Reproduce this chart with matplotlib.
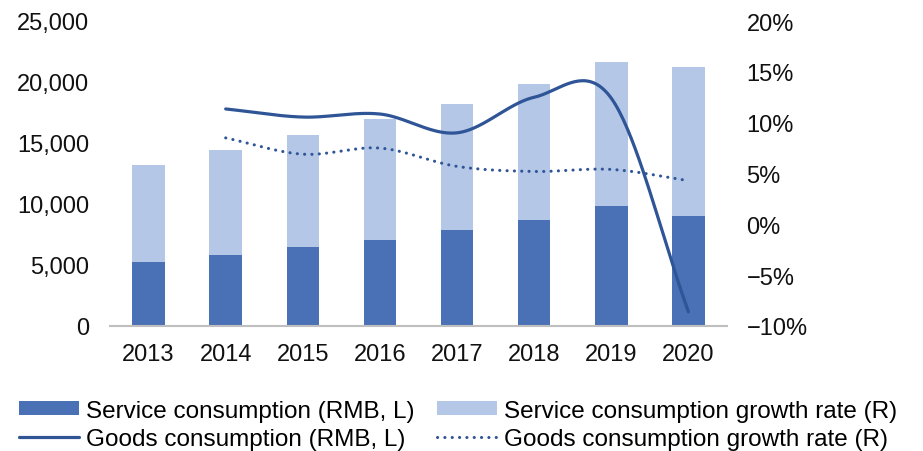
import numpy as np
import matplotlib
matplotlib.use("Agg")
import matplotlib.pyplot as plt
from matplotlib.ticker import FuncFormatter, FixedLocator

years = ["2013", "2014", "2015", "2016", "2017", "2018", "2019", "2020"]
service_consumption = [5250, 5800, 6450, 7050, 7850, 8650, 9850, 9000]
total_height = [13200, 14400, 15650, 17000, 18200, 19800, 21600, 21200]
goods_years = ["2014", "2015", "2016", "2017", "2018", "2019", "2020"]
goods_consumption_growth_line = [11.35, 10.55, 10.85, 9.0, 12.5, 12.4, -8.6]
goods_dotted = [8.5, 6.9, 7.5, 5.7, 5.2, 5.4, 4.3]
left_ticks = [0, 5000, 10000, 15000, 20000, 25000]
right_ticks = [-10, -5, 0, 5, 10, 15, 20]

main_font = ["Liberation Sans", "DejaVu Sans"]

DARK = "#4A70B5"
LIGHT = "#B4C7E7"
LINE = "#2F5597"


def catmull(xs, ys, n=40):
    xs = np.asarray(xs, float); ys = np.asarray(ys, float)
    px = np.concatenate([[2 * xs[0] - xs[1]], xs, [2 * xs[-1] - xs[-2]]])
    py = np.concatenate([[2 * ys[0] - ys[1]], ys, [2 * ys[-1] - ys[-2]]])
    ox, oy = [], []
    for i in range(1, len(px) - 2):
        t = np.linspace(0, 1, n, endpoint=False) if i < len(px) - 3 else np.linspace(0, 1, n)
        p0, p1, p2, p3 = py[i - 1], py[i], py[i + 1], py[i + 2]
        m1 = (p2 - p0) / 2; m2 = (p3 - p1) / 2
        h00 = 2 * t**3 - 3 * t**2 + 1; h10 = t**3 - 2 * t**2 + t
        h01 = -2 * t**3 + 3 * t**2; h11 = t**3 - t**2
        oy.append(h00 * p1 + h10 * m1 + h01 * p2 + h11 * m2)
        ox.append(px[i] + t * (px[i + 1] - px[i]))
    return np.concatenate(ox), np.concatenate(oy)


fig = plt.figure(figsize=(9.23, 4.52), dpi=100)
ax = fig.add_axes([110 / 923, 1 - 327 / 452, (727 - 110) / 923, (327 - 22) / 452])
ax2 = ax.twinx()

x = np.arange(len(years))
bw = 0.42
b_light = ax.bar(x, total_height, width=bw, color=LIGHT, zorder=2,
                 label="Service consumption growth rate (R)")
b_dark = ax.bar(x, service_consumption, width=bw, color=DARK, zorder=3,
                label="Service consumption (RMB, L)")

gx = np.array([years.index(y) for y in goods_years], float)
sx, sy = catmull(gx, goods_consumption_growth_line)
l_solid, = ax2.plot(sx, sy, color=LINE, lw=2.3, solid_capstyle="round",
                    label="Goods consumption (RMB, L)")
dx, dy = catmull(gx, goods_dotted)
l_dot, = ax2.plot(dx, dy, color=LINE, lw=2.2, linestyle=(0, (0.05, 2.35)),
                  dash_capstyle="round", label="Goods consumption growth rate (R)")

ax.set_xlim(-0.5, len(years) - 0.5)
ax.set_ylim(0, 25000)
ax2.set_ylim(-10, 20)
ax.yaxis.set_major_locator(FixedLocator(left_ticks))
ax2.yaxis.set_major_locator(FixedLocator(right_ticks))
ax.yaxis.set_major_formatter(FuncFormatter(lambda v, p: f"{int(v):,}"))
ax2.yaxis.set_major_formatter(FuncFormatter(lambda v, p: f"{int(v)}%".replace("-", "\u2212")))
ax.set_xticks(x)
ax.set_xticklabels(years)

for a in (ax, ax2):
    for s in a.spines.values():
        s.set_visible(False)
    a.tick_params(length=0, labelsize=17, labelcolor="#111111")
    for lab in a.get_xticklabels() + a.get_yticklabels():
        lab.set_fontfamily(main_font)
ax.spines["bottom"].set_visible(True)
ax.spines["bottom"].set_color("#BFBFBF")
ax.spines["bottom"].set_linewidth(1.5)
ax.spines["bottom"].set_zorder(5)
ax.tick_params(axis="y", pad=15)
ax.tick_params(axis="x", pad=12)
ax2.tick_params(axis="y", pad=14)

fs = 17.5
leg = fig.legend([b_dark, l_solid, b_light, l_dot],
                 ["Service consumption (RMB, L)", "Goods consumption (RMB, L)",
                  "Service consumption growth rate (R)", "Goods consumption growth rate (R)"],
                 ncol=2, loc="upper left", bbox_to_anchor=(19 / 923, 1 - 401 / 452),
                 frameon=False, prop={"family": main_font, "size": fs},
                 handlelength=2.45, handleheight=0.5, handletextpad=0.3,
                 columnspacing=0.95, labelspacing=0.25, borderpad=0, borderaxespad=0)

fig.savefig("out.png", dpi=100)
